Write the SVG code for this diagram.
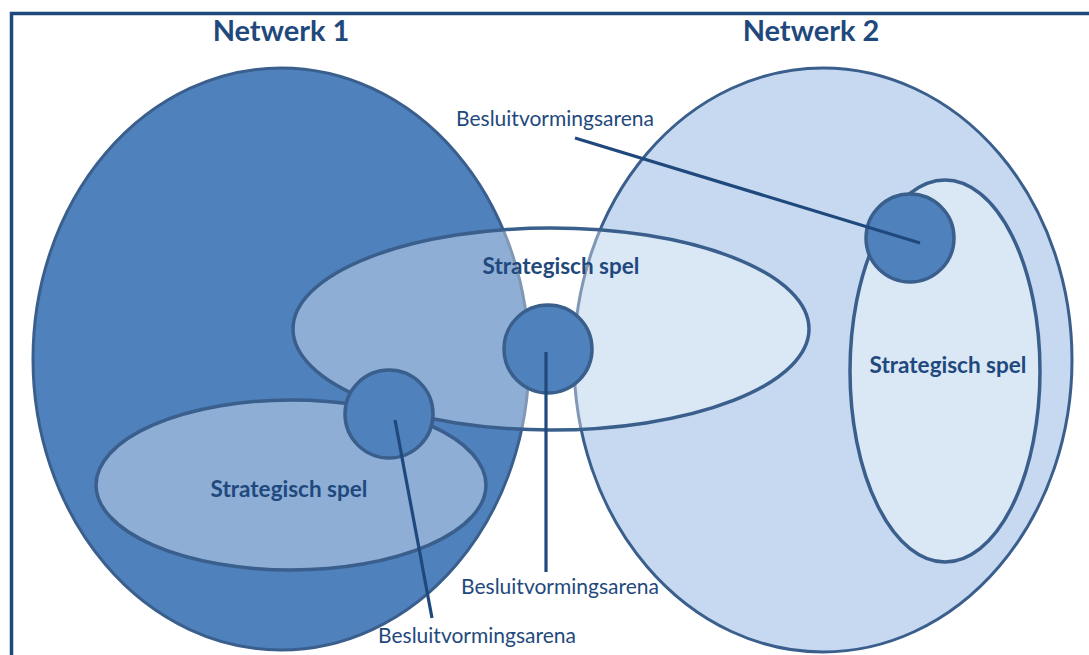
<svg xmlns="http://www.w3.org/2000/svg" width="1089" height="655" viewBox="0 0 1089 655">
  <style>
    .net1 { fill: #4f81bd; stroke: #3a5f8c; stroke-width: 3; }
    .net2 { fill: #c6d9f0; stroke: #3a5f8c; stroke-width: 3; }
    .game { fill: #ffffff; fill-opacity: 0.36; stroke: #3a5f8c; stroke-width: 3.5; }
    .arena { fill: #4f81bd; stroke: #3a5f8c; stroke-width: 3.5; }
    .link { stroke: #1f497d; stroke-width: 3.2; fill: none; }
    .title { font-family: Lato, "Liberation Sans", sans-serif; font-weight: bold; font-size: 29px; fill: #1f497d; text-anchor: middle; }
    .spel { font-family: Lato, "Liberation Sans", sans-serif; font-weight: bold; font-size: 22.5px; fill: #1f497d; text-anchor: middle; }
    .label { font-family: Lato, "Liberation Sans", sans-serif; font-size: 21px; fill: #1f497d; text-anchor: middle; }
  </style>

  <rect x="0" y="0" width="1089" height="655" fill="#ffffff"/>
  <!-- outer frame, runs past the right and bottom edges -->
  <rect x="11.5" y="13.5" width="1100" height="700" fill="none" stroke="#1f497d" stroke-width="3.5"/>

  <g id="netwerk-1">
    <ellipse class="net1" cx="281" cy="359" rx="248" ry="291"/>
    <text class="title" x="281" y="41">Netwerk 1</text>
  </g>

  <g id="netwerk-2">
    <ellipse class="net2" cx="823" cy="360" rx="249" ry="292"/>
    <text class="title" x="811" y="41">Netwerk 2</text>
  </g>

  <g id="spel-links">
    <ellipse class="game" cx="291" cy="485" rx="195" ry="85"/>
    <text class="spel" x="289" y="497">Strategisch spel</text>
  </g>

  <g id="spel-midden">
    <ellipse class="game" cx="551" cy="329" rx="258" ry="101"/>
    <text class="spel" x="561" y="274">Strategisch spel</text>
  </g>

  <g id="spel-rechts">
    <ellipse class="game" cx="945" cy="371" rx="95" ry="191"/>
    <text class="spel" x="948" y="373">Strategisch spel</text>
  </g>

  <g id="arena-rechts">
    <circle class="arena" cx="910" cy="238" r="44"/>
  </g>
  <g id="arena-midden">
    <circle class="arena" cx="548" cy="349" r="44"/>
  </g>
  <g id="arena-links">
    <circle class="arena" cx="389" cy="414" r="44"/>
  </g>

  <g id="connectors">
    <line class="link" x1="575" y1="138" x2="920" y2="243"/>
    <line class="link" x1="546" y1="352" x2="546" y2="572"/>
    <line class="link" x1="395" y1="420" x2="432" y2="618"/>
  </g>

  <g id="arena-labels">
    <text class="label" x="555" y="126">Besluitvormingsarena</text>
    <text class="label" x="560" y="594">Besluitvormingsarena</text>
    <text class="label" x="477" y="643">Besluitvormingsarena</text>
  </g>
</svg>
